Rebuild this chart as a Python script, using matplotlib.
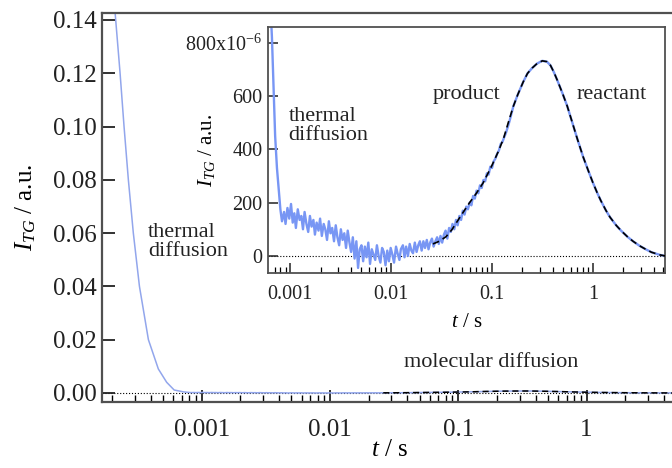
import numpy as np
import matplotlib
matplotlib.use("Agg")
from matplotlib import pyplot as plt
from matplotlib.ticker import FixedLocator, FixedFormatter, LogLocator, NullFormatter, FormatStrFormatter

plt.rcParams['font.family'] = ['Liberation Serif', 'DejaVu Serif']
plt.rcParams['mathtext.fontset'] = 'custom'
plt.rcParams['mathtext.rm'] = 'Liberation Serif'
plt.rcParams['mathtext.it'] = 'Liberation Serif:italic'

# thermal diffusion decay (t in s, signal in a.u.)
decay_t = [1.70e-4, 1.95e-4, 2.11e-4, 2.31e-4, 2.48e-4, 2.68e-4, 2.93e-4, 3.27e-4,
           3.84e-4, 4.59e-4, 5.33e-4]
decay_I = [0.23, 0.165, 0.143, 0.12, 0.10, 0.08, 0.06, 0.04, 0.02, 0.009, 0.004]

# noisy part of the trace (t in ms, signal in 1e-6 a.u.)
noisy_t_ms = [0.61, 0.63, 0.66, 0.69, 0.71, 0.74, 0.77, 0.80, 0.83, 0.87,
              0.90, 0.94, 0.98, 1.02, 1.06, 1.10, 1.14, 1.19, 1.24, 1.29,
              1.34, 1.39, 1.45, 1.51, 1.57, 1.63, 1.70, 1.76, 1.83, 1.91,
              1.98, 2.06, 2.15, 2.23, 2.32, 2.42, 2.51, 2.61, 2.72, 2.83,
              2.94, 3.06, 3.18, 3.31, 3.44, 3.58, 3.72, 3.87, 4.02, 4.18,
              4.35, 4.53, 4.71, 4.89, 5.09, 5.29, 5.50, 5.72, 5.95, 6.19,
              6.44, 6.70, 6.97, 7.24, 7.53, 7.84, 8.15, 8.47, 8.81, 9.17,
              9.53, 9.91, 10.3, 10.7, 11.2, 11.6, 12.1, 12.5, 13.1, 13.6,
              14.1, 14.7, 15.3, 15.9, 16.5, 17.2, 17.9, 18.6, 19.3, 20.1,
              20.9, 21.7, 22.6, 23.5, 24.4, 25.4, 26.4, 27.5, 28.6, 29.7,
              30.9, 32.1, 33.4, 34.7, 36.1, 37.6, 39.1, 40.6, 42.3, 44.0,
              45.7, 47.5, 49.4, 51.4, 53.5, 55.6, 57.8, 60.1, 62.5, 65.0,
              67.6, 70.3, 73.2, 76.1, 79.1, 82.3, 85.6, 89.0, 92.6, 96.3,
              100, 104, 108, 113, 117, 122, 127, 132, 137, 143,
              149]
noisy_I = [1100, 980, 820, 600, 450, 330, 250, 175, 130, 165,
           120, 180, 140, 195, 125, 160, 105, 175, 135, 150,
           100, 165, 120, 90, 150, 110, 135, 80, 125, 95,
           140, 75, 120, 100, 60, 130, 85, 105, 55, 115,
           70, 40, 100, 60, 85, 30, 95, 50, 15, 70,
           -10, 55, -45, 25, 40, -20, 35, -5, 50, -30,
           25, 5, -15, 40, 0, -25, 30, 15, -35, 20,
           -20, 30, 5, -25, 35, 10, -15, 25, 40, -5,
           35, 0, 45, 20, 10, 50, 15, 40, 55, 20,
           55, 30, 60, 25, 50, 65, 35, 55, 70, 45,
           75, 50, 80, 95, 65, 105, 90, 120, 100, 135,
           115, 150, 135, 170, 155, 185, 175, 200, 190, 225,
           215, 245, 235, 265, 255, 285, 280, 310, 305, 335,
           330, 355, 365, 385, 395, 420, 428, 445, 460, 482,
           505]

# smooth part of the trace (t in s, 1e-6 a.u.)
smooth_t = [0.163, 0.18, 0.204, 0.225, 0.25, 0.28, 0.315, 0.35, 0.38, 0.41, 0.443,
            0.50, 0.557, 0.62, 0.70, 0.80, 0.90, 1.0, 1.1, 1.2, 1.35, 1.48, 1.7,
            1.9, 2.2, 2.5, 2.9, 3.3, 3.8, 4.6, 5.2]
smooth_I = [562, 605, 653, 685, 705, 722, 732, 729, 715, 690, 660,
            610, 562, 505, 440, 372, 320, 275, 238, 207, 170, 145, 115,
            95, 72, 55, 38, 26, 14, 4, 0]

# fit (black dashed), t in s, 1e-6 a.u.
fit_t = [0.026, 0.030, 0.035, 0.040, 0.045, 0.050, 0.060, 0.070, 0.082, 0.10, 0.115,
         0.13, 0.145] + smooth_t
fit_I = [45, 55, 72, 98, 128, 155, 200, 235, 275, 340, 390,
         440, 500] + smooth_I

main_yticks = [0.00, 0.02, 0.04, 0.06, 0.08, 0.10, 0.12, 0.14]
x_major = [0.001, 0.01, 0.1, 1]
x_labels = ['0.001', '0.01', '0.1', '1']
inset_yticks = [0, 200, 400, 600, 800]
inset_ylabels = ['0', '200', '400', '600', r'800x10$^{\mathregular{-6}}$']

# assemble the trace
trace_t = np.concatenate([np.array(noisy_t_ms) * 1e-3, smooth_t])
trace_I = np.concatenate([noisy_I, smooth_I])

blue_main = '#92a6ec'
blue_inset = '#7896f4'
spine_col = '#505050'

fig = plt.figure(figsize=(6.72, 4.68), dpi=100)

# ---- main panel ----
ax = fig.add_axes([0.1518, 0.141, 0.857, 0.8312])
ax.axhline(0, color='k', ls=':', lw=0.8, zorder=1)
ax.plot(np.concatenate([decay_t, trace_t]),
        np.concatenate([decay_I, trace_I * 1e-6]),
        color=blue_main, lw=1.1, zorder=2)
ax.plot(fit_t, np.array(fit_I) * 1e-6, color='k', ls=(0, (4, 2.5)), lw=1.1, zorder=3)
ax.set_xscale('log')
ax.set_xlim(1.67e-4, 5.15)
ax.set_ylim(-0.0034, 0.1426)
ax.yaxis.set_major_locator(FixedLocator(main_yticks))
ax.yaxis.set_major_formatter(FormatStrFormatter('%.2f'))
ax.xaxis.set_major_locator(FixedLocator(x_major))
ax.xaxis.set_major_formatter(FixedFormatter(x_labels))
ax.xaxis.set_minor_locator(LogLocator(base=10, subs=np.arange(2, 10)))
ax.xaxis.set_minor_formatter(NullFormatter())
ax.tick_params(axis='y', direction='in', length=9, width=1.3, labelsize=18, pad=4,
               colors='#222222')
ax.tick_params(axis='x', which='major', direction='in', length=9, width=1.3,
               labelsize=18, pad=12, colors='#222222')
ax.tick_params(axis='x', which='minor', direction='in', length=5, width=1.0)
for s in ax.spines.values():
    s.set_color(spine_col)
    s.set_linewidth(1.6)
ax.set_ylabel(r'$I_{TG}$ / a.u.', fontsize=18)
ax.yaxis.set_label_coords(-0.111, 0.5)
ax.set_xlabel(r'$t$ / s', fontsize=18, va='top')
ax.xaxis.set_label_coords(0.5, -0.094)
ax.text(3.8e-4, 0.0567, 'thermal\ndiffusion', fontsize=16, ha='left', va='center',
        linespacing=1.05, color='#222222')
ax.text(0.18, 0.0113, 'molecular diffusion', fontsize=16, ha='center', va='center',
        color='#222222')

# ---- inset ----
ins = fig.add_axes([0.399, 0.4167, 0.5908, 0.5256])
ins.axhline(0, color='k', ls=':', lw=0.8, zorder=1)
ins.plot(trace_t, trace_I, color=blue_inset, lw=1.7, zorder=2)
ins.plot(fit_t, fit_I, color='k', ls=(0, (4, 2.5)), lw=1.2, zorder=3)
ins.set_xscale('log')
ins.set_xlim(6.05e-4, 5.2)
ins.set_ylim(-64, 859)
ins.yaxis.set_major_locator(FixedLocator(inset_yticks))
ins.yaxis.set_major_formatter(FixedFormatter(inset_ylabels))
ins.xaxis.set_major_locator(FixedLocator(x_major))
ins.xaxis.set_major_formatter(FixedFormatter(x_labels))
ins.xaxis.set_minor_locator(LogLocator(base=10, subs=np.arange(2, 10)))
ins.xaxis.set_minor_formatter(NullFormatter())
ins.tick_params(axis='y', direction='in', length=7, width=1.1, labelsize=14.5, pad=4,
                colors='#222222')
ins.tick_params(axis='x', which='major', direction='in', length=7, width=1.1,
                labelsize=14.5, pad=9, colors='#222222')
ins.tick_params(axis='x', which='minor', direction='in', length=4, width=0.9)
for s in ins.spines.values():
    s.set_color(spine_col)
    s.set_linewidth(1.3)
ins.set_ylabel(r'$I_{TG}$ / a.u.', fontsize=15)
ins.yaxis.set_label_coords(-0.128, 0.5)
ins.set_xlabel(r'$t$ / s', fontsize=15, va='top')
ins.xaxis.set_label_coords(0.5, -0.163)
ins.text(0.00096, 488, 'thermal\ndiffusion', fontsize=16, ha='left', va='center',
         linespacing=1.05, color='#222222')
ins.text(0.0557, 604, 'product', fontsize=16, ha='center', va='center', color='#222222')
ins.text(1.52, 604, 'reactant', fontsize=16, ha='center', va='center', color='#222222')

fig.savefig('out.png', dpi=100)
